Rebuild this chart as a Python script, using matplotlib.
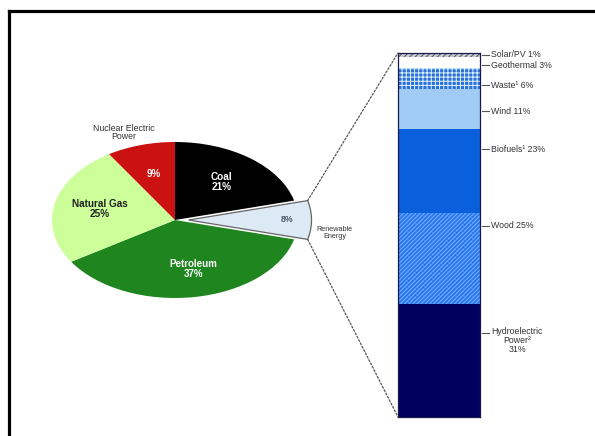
import numpy as np
import matplotlib
matplotlib.use("Agg")
import matplotlib.pyplot as plt
from matplotlib.lines import Line2D
from matplotlib.patches import ConnectionPatch

plt.rcParams['font.family'] = ['Liberation Sans', 'DejaVu Sans']
plt.rcParams['hatch.linewidth'] = 0.7

# Energy consumption by source (percent)
pie_names = ["Coal", "Renewable Energy", "Petroleum", "Natural Gas", "Nuclear Electric Power"]
pie_values = [21, 8, 37, 25, 9]
pie_colors = ["#000000", "#dde9f5", "#1f861f", "#ccff99", "#cc1111"]

# Renewable energy breakdown (percent), bottom to top
ren_names = ["Hydroelectric\nPower²", "Wood", "Biofuels¹", "Wind", "Waste¹", "Geothermal", "Solar/PV"]
ren_values = [31, 25, 23, 11, 6, 3, 1]
ren_colors = ["#00005f", "#2a78f0", "#0a60dc", "#9fcbf5", "#2f6fd6", "#ffffff", "#c4cad6"]
ren_hatches = [None, "////////", None, None, "++++", None, "//////"]
ren_hatch_colors = [None, "#79b0ff", None, None, "#d8f4ff", None, "#555555"]

W, H = 595, 436
fig = plt.figure(figsize=(W / 100, H / 100), dpi=100)

# ---- pie (drawn as an ellipse by using a non-equal aspect) ----
cx, cy, rx, ry = 175, 220, 123, 78
lim = 1.3
ax = fig.add_axes([(cx - lim * rx) / W, (H - (cy + lim * ry)) / H,
                   2 * lim * rx / W, 2 * lim * ry / H])
explode = [0, 0.11, 0, 0, 0]
wedges, _ = ax.pie(pie_values, colors=pie_colors, startangle=90, counterclock=False,
                   explode=explode, radius=1,
                   wedgeprops=dict(linewidth=0))
ax.set_aspect('auto')
ax.set_xlim(-lim, lim)
ax.set_ylim(-lim, lim)
ax.axis('off')
wedges[1].set_edgecolor("#666666")
wedges[1].set_linewidth(0.9)

total = sum(pie_values)
start = 90.0
mids = []
for v in pie_values:
    span = 360.0 * v / total
    mids.append(start - span / 2)
    start -= span

def polar(ang, r, dx=0.0):
    a = np.deg2rad(ang)
    return dx + r * np.cos(a), r * np.sin(a)

# slice labels
x, y = polar(mids[0], 0.62)
ax.text(x, y, f"Coal\n{pie_values[0]}%", color="white", ha="center", va="center",
        fontsize=7.2, fontweight="bold", linespacing=1.0)
x, y = polar(mids[1], 0.8, dx=0.11)
ax.text(x, y, f"{pie_values[1]}%", color="#4a5a6a", ha="center", va="center",
        fontsize=6.3, fontweight="bold")
ax.text(1.3, -0.17, "Renewable\nEnergy", color="#333333", ha="center", va="center",
        fontsize=5.2, linespacing=1.0)
x, y = polar(mids[2], 0.63)
ax.text(x + 0.05, y, f"{pie_names[2]}\n{pie_values[2]}%", color="white", ha="center",
        va="center", fontsize=7.0, fontweight="bold", linespacing=1.0)
x, y = polar(mids[3], 0.63)
ax.text(x, y, f"{pie_names[3]}\n{pie_values[3]}%", color="#222222", ha="center",
        va="center", fontsize=7.2, fontweight="bold", linespacing=1.0)
x, y = polar(mids[4], 0.62)
ax.text(x, y, f"{pie_values[4]}%", color="white", ha="center", va="center",
        fontsize=7.0, fontweight="bold")
ax.text(-0.42, 1.12, "Nuclear Electric\nPower", color="#333333", ha="center",
        va="center", fontsize=6.3, linespacing=0.95)

# ---- stacked renewable bar ----
bx0, bx1, by0, by1 = 398, 480, 53, 417
bax = fig.add_axes([bx0 / W, (H - by1) / H, (bx1 - bx0) / W, (by1 - by0) / H])
bottom = 0
seg_mid = []
for v, c, h, hc in zip(ren_values, ren_colors, ren_hatches, ren_hatch_colors):
    bax.bar(0.5, v, width=1.0, bottom=bottom, color=c, hatch=h,
            edgecolor=hc if hc else c, linewidth=0)
    seg_mid.append(bottom + v / 2)
    bottom += v
bax.set_xlim(0, 1)
bax.set_ylim(0, sum(ren_values))
bax.set_xticks([])
bax.set_yticks([])
for s in bax.spines.values():
    s.set_color("#1a1a4a")
    s.set_linewidth(0.9)

# label positions nudged apart where segments are crowded
label_nudge = [7.6, 9.0, 6.0, -0.5, -1.8, -0.8, 0.0]
for name, v, m, n in zip(ren_names, ren_values, seg_mid, label_nudge):
    ly = m + n
    bax.plot([1.02, 1.11], [ly, ly], color="#555555", lw=0.8, clip_on=False)
    if "\n" in name:
        bax.text(1.14, ly + 1.6, f"{name}\n{v}%", ha="left", va="top",
                 multialignment="center", fontsize=6.3, color="#333333",
                 linespacing=1.0, transform=bax.get_yaxis_transform())
    else:
        bax.text(1.14, ly, f"{name} {v}%", ha="left", va="center", fontsize=6.3,
                 color="#333333", transform=bax.get_yaxis_transform())

# ---- dashed connectors from the exploded wedge to the bar ----
w = wedges[1]
t_hi, t_lo = max(w.theta1, w.theta2), min(w.theta1, w.theta2)
p_top = polar(t_hi, 1.0, dx=0.11)
p_bot = polar(t_lo, 1.0, dx=0.11)
for p, q in [(p_top, (0, sum(ren_values))), (p_bot, (0, 0))]:
    con = ConnectionPatch(xyA=p, coordsA=ax.transData, xyB=q, coordsB=bax.transData,
                          color="#555555", lw=0.9, linestyle=(0, (1.5, 1.5)))
    fig.add_artist(con)

# ---- frame on the left and top edges ----
fx, fy = 8.5 / W, 1 - 11.5 / H
fig.add_artist(Line2D([fx, fx], [0, fy], transform=fig.transFigure, color="black",
                      lw=2.3, solid_capstyle="projecting"))
fig.add_artist(Line2D([fx, 1], [fy, fy], transform=fig.transFigure, color="black",
                      lw=2.3, solid_capstyle="projecting"))

fig.savefig("out.png", dpi=100)
